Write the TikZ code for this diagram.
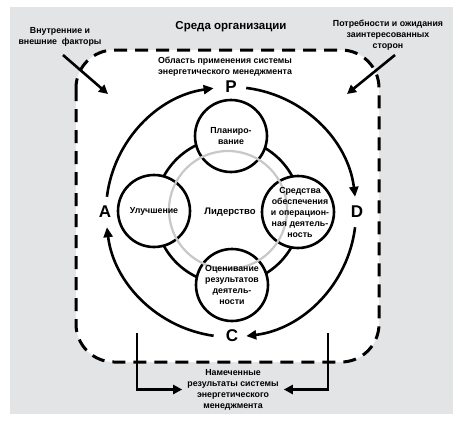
\documentclass[tikz,border=0pt]{standalone}
\usepackage{fontspec}
\setmainfont{Liberation Sans}
\usetikzlibrary{arrows.meta}
\definecolor{bggray}{HTML}{E3E4E6}
\definecolor{ringgray}{HTML}{C8C8C8}
\begin{document}
\begin{tikzpicture}[x=1pt,y=-1pt,
  lbl/.style={font=\bfseries\fontsize{8.8}{11}\selectfont, align=center, inner sep=0pt},
  letter/.style={font=\bfseries\fontsize{17}{17}\selectfont, inner sep=0pt},
  stage/.style={circle, draw, line width=2.6pt, fill=white, minimum size=72pt, inner sep=0pt},
  arr/.style={line width=2.6pt, -{Triangle[length=9pt,width=9pt]}},
  arcarr/.style={line width=2.6pt, -{Triangle[length=10pt,width=9pt]}},
  bound/.style={line width=3pt, dash pattern=on 13pt off 8pt, rounded corners=38pt}
]
\useasboundingbox (0,0) rectangle (463,424);
\fill[bggray] (10,7) rectangle (453,414);
\draw[bound, fill=white] (76,50) rectangle (379,362);

% titles
\node[font=\bfseries\fontsize{11.5}{14}\selectfont] (env) at (231,27) {Среда организации};
\node[lbl] (fac) at (60,37) {Внутренние и\\внешние\ \ факторы};
\node[lbl] (need) at (388,35) {Потребности и ожидания\\заинтересованных\\сторон};
\node[lbl] (scope) at (225,67) {Область применения системы\\энергетического менеджмента};
\node[lbl] (res) at (233,389.5) {Намеченные\\результаты системы\\энергетического\\менеджмента};

% outer arrows
\coordinate (facA) at (63,55);
\coordinate (facB) at (108,94);
\coordinate (needA) at (395,55);
\coordinate (needB) at (347,94);
\draw[arr] (facA) -- (facB);
\draw[arr] (needA) -- (needB);

\coordinate (bl) at (137,333);
\coordinate (br) at (328,333);
\draw[arr] (bl) |- ([xshift=-5pt]res.west);
\draw[arr] (br) |- ([xshift=5pt]res.east);

% PDCA cycle
\coordinate (O) at (231,212);
\node[letter] (P) at (231,87) {P};
\node[letter] (D) at (357,212) {D};
\node[letter] (C) at (232,336) {C};
\node[letter] (A) at (105,212) {A};
\draw[arcarr] ([shift={(187:125)}]O) arc[start angle=187, end angle=262, radius=125];
\draw[arcarr] ([shift={(277:125)}]O) arc[start angle=277, end angle=353, radius=125];
\draw[arcarr] ([shift={(7:125)}]O) arc[start angle=7, end angle=83, radius=125];
\draw[arcarr] ([shift={(98:125)}]O) arc[start angle=98, end angle=173, radius=125];

% inner ring
\coordinate (Oi) at (228,211);
\draw[line width=2.6pt] (Oi) circle[radius=73];
\node[stage] (plan) at (231,136) {};
\node[stage] (impr) at (154,211) {};
\node[stage] (oper) at (298,212) {};
\node[stage] (eval) at (232,285) {};
\draw[ringgray, line width=2.2pt] (228,210) circle[radius=59];

\node[lbl] at (plan) {Планиро-\\вание};
\node[lbl] at (impr) {Улучшение};
\node[lbl] at ([xshift=2pt]oper.center) {Средства\\обеспечения\\и операцион-\\ная деятель-\\ность};
\node[lbl] at (eval) {Оценивание\\результатов\\деятель-\\ности};
\node[lbl, font=\bfseries\fontsize{9.5}{11}\selectfont] (lead) at (230,212) {Лидерство};
\end{tikzpicture}
\end{document}
